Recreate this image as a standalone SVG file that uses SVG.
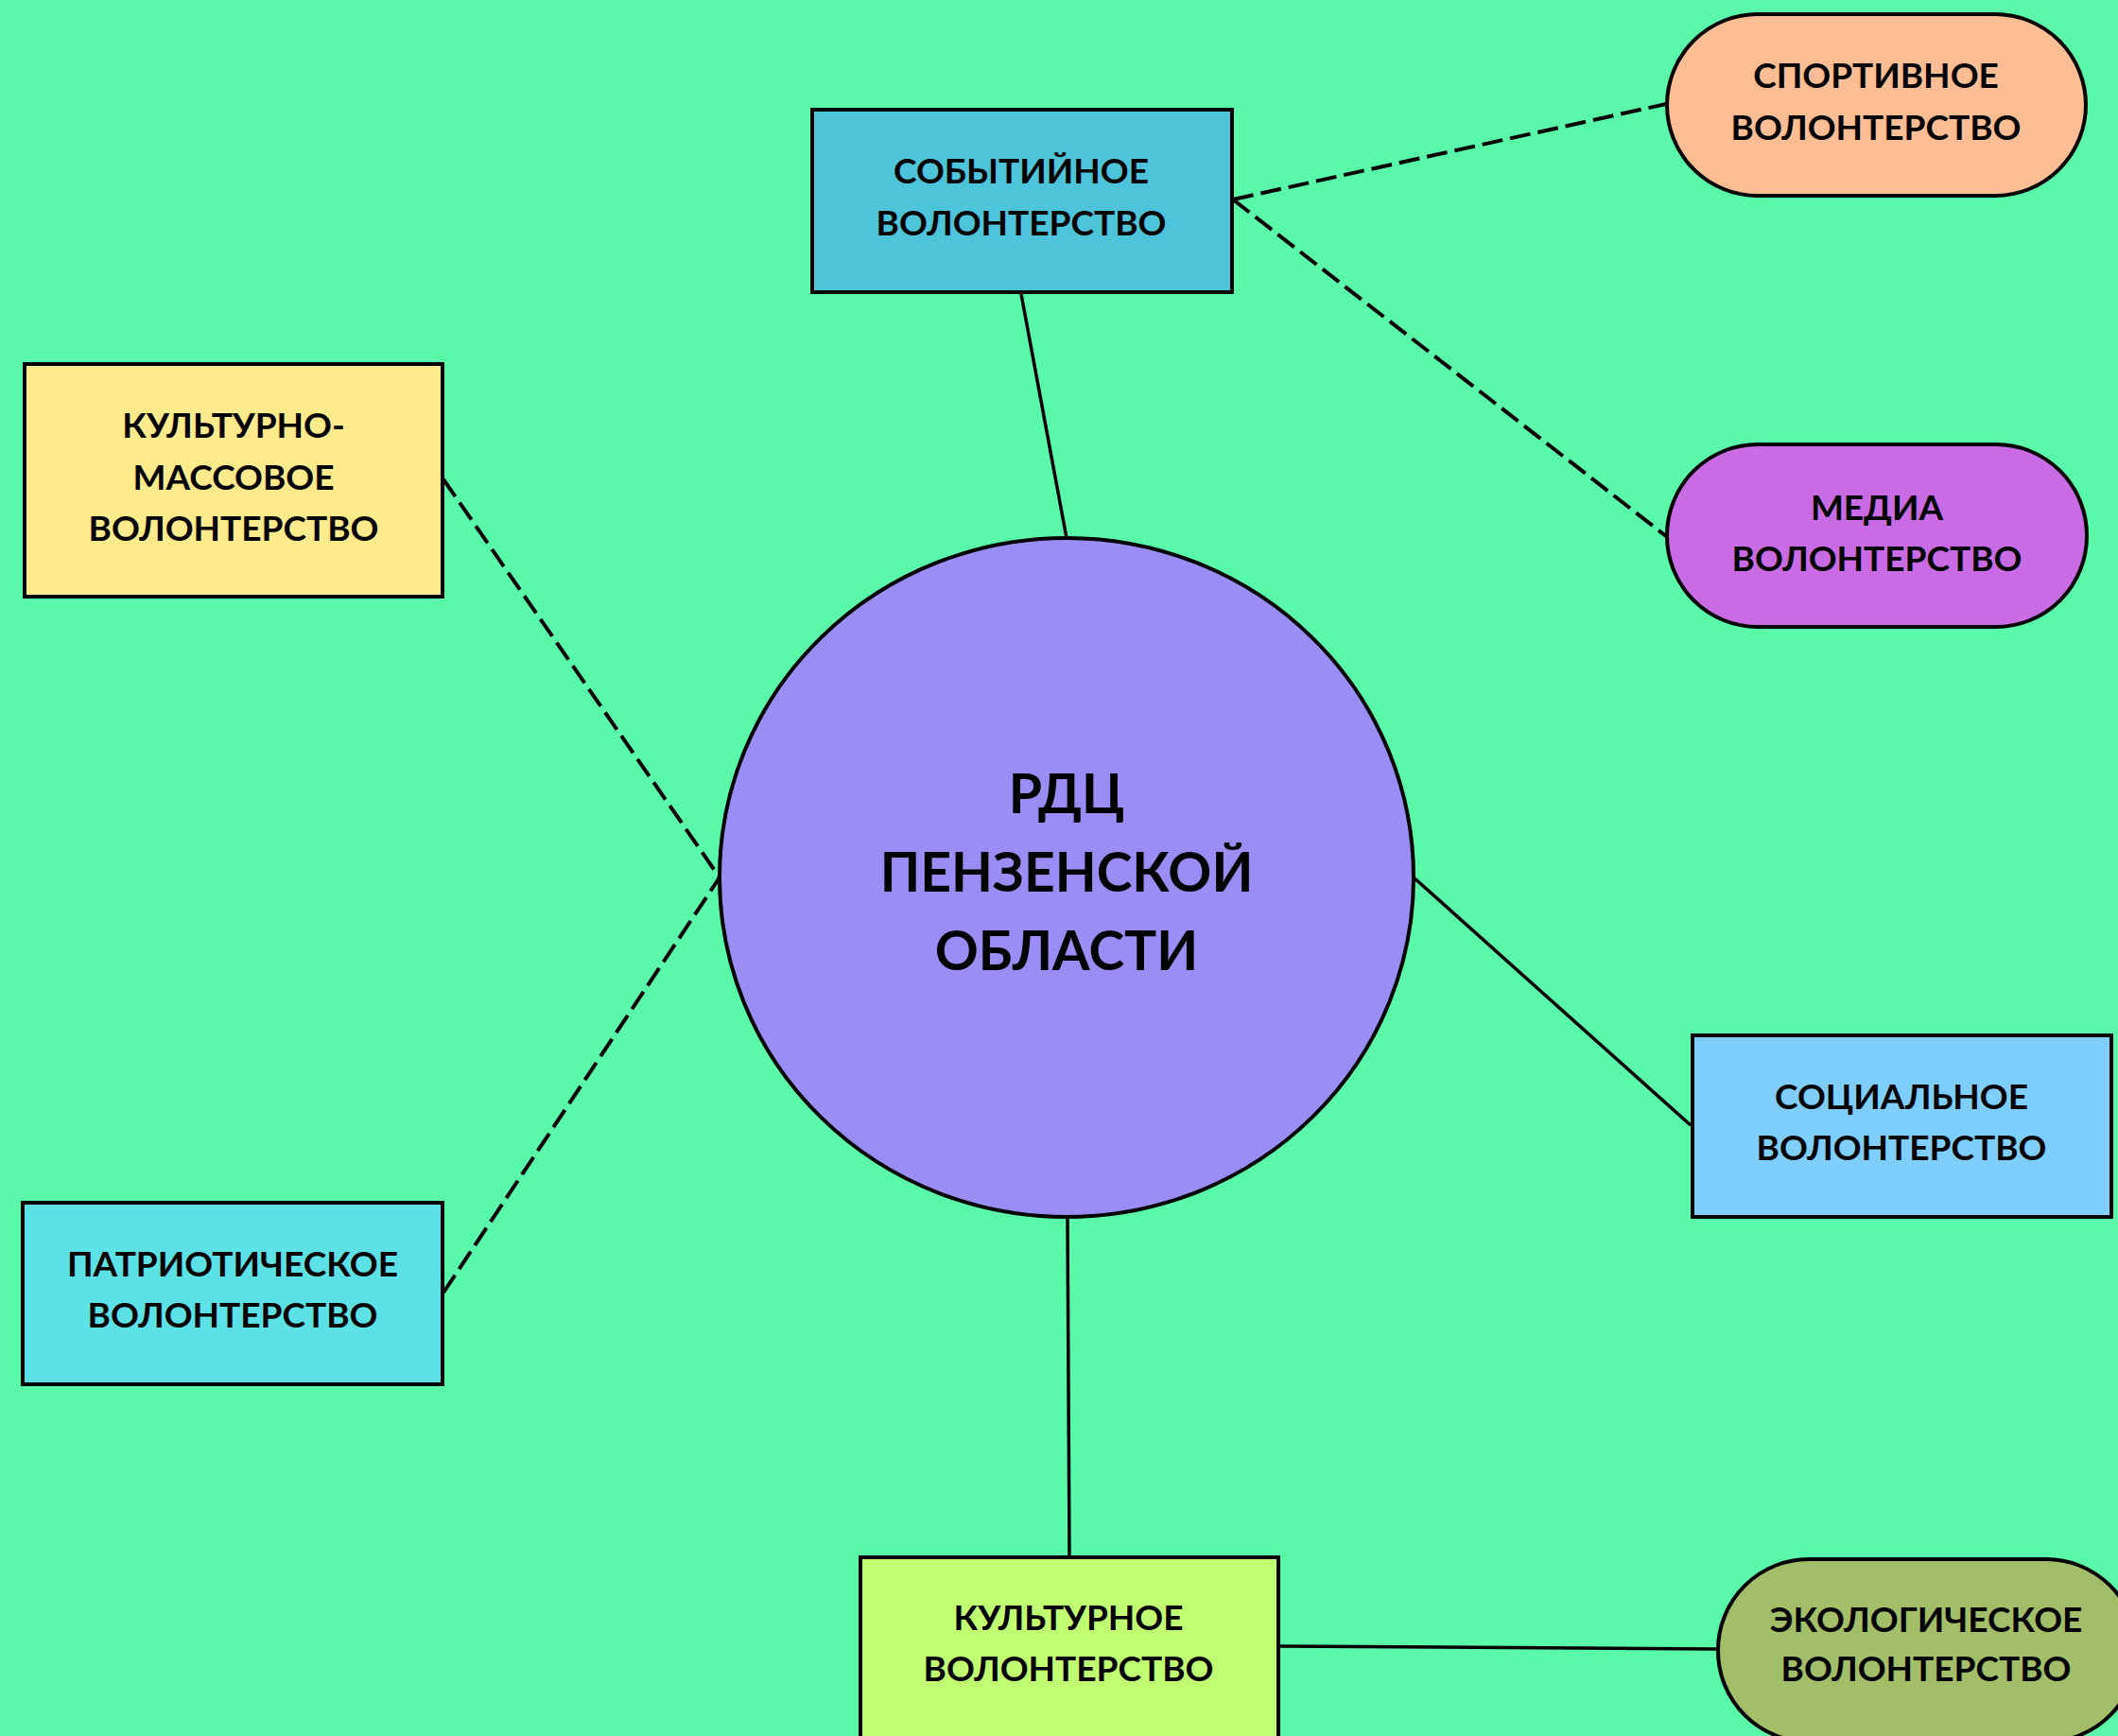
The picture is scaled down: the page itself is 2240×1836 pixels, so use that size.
<svg xmlns="http://www.w3.org/2000/svg" width="2240" height="1836" viewBox="0 0 2240 1836">
<style>
.n{stroke:#000;stroke-width:4}
.t{font-family:"Lato","Liberation Sans",sans-serif;font-weight:700;font-size:37px;fill:#000;text-anchor:middle}
.c{font-family:"Lato","Liberation Sans",sans-serif;font-weight:700;font-size:57px;fill:#000;text-anchor:middle}
.s{stroke:#000;stroke-width:3.5;fill:none}
.d{stroke:#000;stroke-width:4;fill:none;stroke-dasharray:22 8}
</style>
<rect width="2240" height="1836" fill="#5AF9AA"/>
<g id="connectors">
<line class="s" x1="1080" y1="311" x2="1128" y2="569"/>
<line class="d" x1="1304" y1="211" x2="1762" y2="110"/>
<line class="d" x1="1304" y1="211" x2="1762" y2="567"/>
<line class="d" x1="469" y1="507" x2="761" y2="928"/>
<line class="d" x1="469" y1="1367" x2="761" y2="928"/>
<line class="s" x1="1495" y1="928" x2="1788" y2="1190"/>
<line class="s" x1="1129" y1="1287" x2="1131" y2="1645"/>
<line class="s" x1="1353" y1="1741" x2="1815" y2="1744"/>
</g>
<g id="center">
<ellipse class="n" cx="1128" cy="928" rx="367" ry="359" fill="#9A8EF6"/>
<text class="c" x="1128" y="860">РДЦ</text>
<text class="c" x="1128" y="943">ПЕНЗЕНСКОЙ</text>
<text class="c" x="1128" y="1026">ОБЛАСТИ</text>
</g>
<g id="sobytiynoe">
<rect class="n" x="859" y="116" width="444" height="193" fill="#4DC4DA"/>
<text class="t" x="1080" y="194">СОБЫТИЙНОЕ</text>
<text class="t" x="1080" y="249">ВОЛОНТЕРСТВО</text>
</g>
<g id="sportivnoe">
<rect class="n" x="1763" y="15" width="443" height="192" rx="96" fill="#FFBD94"/>
<text class="t" x="1984" y="93">СПОРТИВНОЕ</text>
<text class="t" x="1984" y="148">ВОЛОНТЕРСТВО</text>
</g>
<g id="media">
<rect class="n" x="1763" y="470" width="444" height="193" rx="96" fill="#C96BE5"/>
<text class="t" x="1985" y="550">МЕДИА</text>
<text class="t" x="1985" y="604">ВОЛОНТЕРСТВО</text>
</g>
<g id="kulturno-massovoe">
<rect class="n" x="26" y="385" width="442" height="246" fill="#FFEA8C"/>
<text class="t" x="247" y="463">КУЛЬТУРНО-</text>
<text class="t" x="247" y="518">МАССОВОЕ</text>
<text class="t" x="247" y="572">ВОЛОНТЕРСТВО</text>
</g>
<g id="patrioticheskoe">
<rect class="n" x="24" y="1272" width="444" height="192" fill="#5CE1E6"/>
<text class="t" x="246" y="1350">ПАТРИОТИЧЕСКОЕ</text>
<text class="t" x="246" y="1404">ВОЛОНТЕРСТВО</text>
</g>
<g id="socialnoe">
<rect class="n" x="1790" y="1095" width="443" height="192" fill="#7ECFFF"/>
<text class="t" x="2011" y="1173">СОЦИАЛЬНОЕ</text>
<text class="t" x="2011" y="1227">ВОЛОНТЕРСТВО</text>
</g>
<g id="kulturnoe">
<rect class="n" x="910" y="1647" width="442" height="200" fill="#C1FF72"/>
<text class="t" x="1130" y="1724">КУЛЬТУРНОЕ</text>
<text class="t" x="1130" y="1778">ВОЛОНТЕРСТВО</text>
</g>
<g id="ekologicheskoe">
<rect class="n" x="1817" y="1649" width="443" height="193" rx="96" fill="#A3BE68"/>
<text class="t" x="2037" y="1726">ЭКОЛОГИЧЕСКОЕ</text>
<text class="t" x="2037" y="1778">ВОЛОНТЕРСТВО</text>
</g>
</svg>
